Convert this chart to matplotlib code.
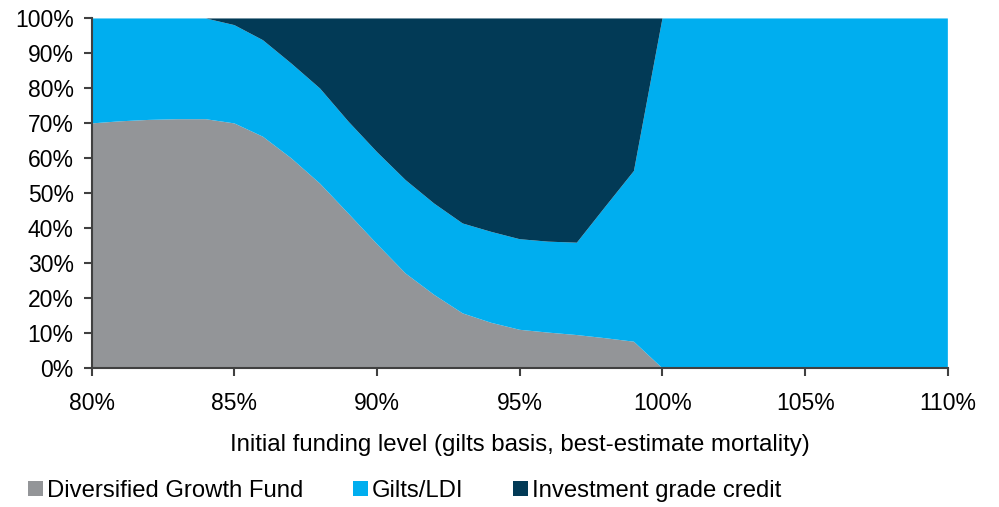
import matplotlib
matplotlib.use("Agg")
import matplotlib.pyplot as plt
from matplotlib.patches import Patch
from matplotlib.ticker import FuncFormatter, MultipleLocator

plt.rcParams['font.family'] = ['Liberation Sans', 'DejaVu Sans']

# Initial funding level (%)
funding = list(range(80, 111))

# Allocation (%) by funding level
dgf = [70.0, 70.6, 71.0, 71.2, 71.2, 70.0, 66.2, 60.0, 52.8, 44.2,
       35.5, 27.1, 21.0, 15.7, 13.0, 11.0, 10.2, 9.5, 8.6, 7.6,
       0, 0, 0, 0, 0, 0, 0, 0, 0, 0, 0]
dgf_plus_gilts = [100, 100, 100, 100, 100, 98.1, 93.8, 87.1, 80.0, 70.5,
                  61.8, 53.8, 47.1, 41.4, 39.0, 36.9, 36.2, 35.9, 46.2, 56.4,
                  100, 100, 100, 100, 100, 100, 100, 100, 100, 100, 100]
gilts = [t - d for t, d in zip(dgf_plus_gilts, dgf)]
credit = [100 - t for t in dgf_plus_gilts]

series_names = ["Diversified Growth Fund", "Gilts/LDI", "Investment grade credit"]
colors = ["#939598", "#00AEEF", "#023A56"]

fig = plt.figure(figsize=(9.99, 5.07), dpi=100)
ax = fig.add_axes([0.0918, 0.2736, 0.857, 0.690])

ax.stackplot(funding, dgf, gilts, credit, colors=colors, linewidth=0)

ax.set_xlim(80, 110)
ax.set_ylim(0, 100)
ax.xaxis.set_major_locator(MultipleLocator(5))
ax.yaxis.set_major_locator(MultipleLocator(10))
pct = FuncFormatter(lambda v, p: f"{v:.0f}%")
ax.xaxis.set_major_formatter(pct)
ax.yaxis.set_major_formatter(pct)

for side in ("top", "right"):
    ax.spines[side].set_visible(False)
for side in ("left", "bottom"):
    ax.spines[side].set_color("#404040")
    ax.spines[side].set_linewidth(1.5)
    ax.spines[side].set_zorder(5)

ax.tick_params(axis="both", colors="#404040", width=1.5, length=6,
               labelcolor="black", labelsize=16.5)
ax.tick_params(axis="x", pad=11)
ax.tick_params(axis="y", pad=7)

ax.set_xlabel("Initial funding level (gilts basis, best-estimate mortality)",
              fontsize=17.3, labelpad=14)

handles = [Patch(facecolor=c, edgecolor="none") for c in colors]
fig.legend(handles, series_names, loc="center left",
           bbox_to_anchor=(0.028, 0.032), borderpad=0, borderaxespad=0,
           ncol=3, frameon=False, fontsize=17.2, handlelength=0.63,
           handleheight=0.55, handletextpad=0.15, columnspacing=2.1)

fig.savefig("out.png", dpi=100)
